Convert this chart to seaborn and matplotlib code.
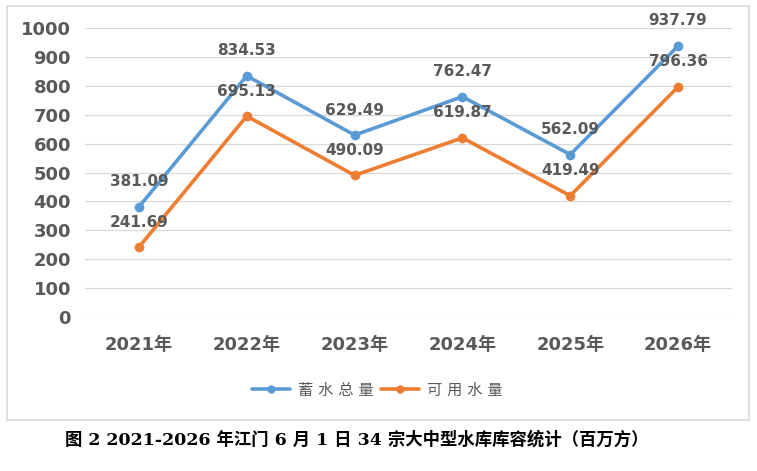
import matplotlib
matplotlib.use("Agg")
import matplotlib.pyplot as plt
import seaborn as sns
import pandas as pd
from matplotlib.patches import Rectangle
from matplotlib.lines import Line2D

years = ["2021年", "2022年", "2023年", "2024年", "2025年", "2026年"]
total_storage = [381.09, 834.53, 629.49, 762.47, 562.09, 937.79]
usable_water = [241.69, 695.13, 490.09, 619.87, 419.49, 796.36]
series_names = ["蓄水总量", "可用水量"]
y_ticks = [0, 100, 200, 300, 400, 500, 600, 700, 800, 900, 1000]
caption = "图 2 2021-2026 年江门 6 月 1 日 34 宗大中型水库库容统计（百万方）"

sns.set_theme(style="white")
plt.rcParams["font.family"] = ["DejaVu Sans", "Noto Sans CJK SC"]

df = pd.DataFrame({
    "year": years * 2,
    "value": total_storage + usable_water,
    "series": [series_names[0]] * len(years) + [series_names[1]] * len(years),
})

W, H = 757, 471
fig = plt.figure(figsize=(W / 100, H / 100), dpi=100)
fig.patch.set_facecolor("white")

# outer chart border
fig.add_artist(Rectangle((7 / W, 1 - 420 / H), (749 - 7) / W, (420 - 6) / H,
                         transform=fig.transFigure, fill=False,
                         edgecolor="#D9D9D9", linewidth=1.2))

ax = fig.add_axes([85 / W, 1 - 317 / H, 647 / W, 289 / H])
palette = {series_names[0]: "#5B9BD5", series_names[1]: "#ED7D31"}
sns.lineplot(data=df, x="year", y="value", hue="series", palette=palette,
             marker="o", markersize=7, markeredgewidth=0, linewidth=2.6,
             ax=ax, legend=False, sort=False)

ax.set_xlim(-0.5, len(years) - 0.5)
ax.set_ylim(0, 1000)
ax.set_yticks(y_ticks)
ax.set_xticks(range(len(years)))
ax.set_xticklabels(years)
ax.set_xlabel("")
ax.set_ylabel("")
for s in ax.spines.values():
    s.set_visible(False)
ax.grid(axis="y", color="#D9D9D9", linewidth=0.9)
ax.grid(axis="x", visible=False)
ax.set_axisbelow(True)
ax.tick_params(axis="both", length=0, labelcolor="#595959")
ax.tick_params(axis="y", pad=10, labelsize=13)
ax.tick_params(axis="x", pad=14, labelsize=13)
for lab in ax.get_yticklabels() + ax.get_xticklabels():
    lab.set_fontweight("bold")

for vals in (total_storage, usable_water):
    for i, v in enumerate(vals):
        ax.annotate(f"{v:.2f}", (i, v), xytext=(0, 18), textcoords="offset points",
                    ha="center", va="center", fontsize=11, fontweight="bold",
                    color="#595959", annotation_clip=False)

handles = [Line2D([], [], color=palette[n], linewidth=2.6, marker="o",
                  markersize=6, markeredgewidth=0) for n in series_names]
labels = [" ".join(n) for n in series_names]
fig.legend(handles, labels, loc="center", bbox_to_anchor=(377 / W, 1 - 390 / H),
           ncol=2, frameon=False, fontsize=11, handlelength=2.5,
           handletextpad=0.5, columnspacing=0.5, labelcolor="#595959")

fig.text(357 / W, 1 - 440 / H, caption, ha="center", va="center",
         fontsize=12.5, fontweight="bold", color="black",
         family=["DejaVu Serif", "Noto Sans CJK SC"])

fig.savefig("out.png", dpi=100, facecolor="white")
